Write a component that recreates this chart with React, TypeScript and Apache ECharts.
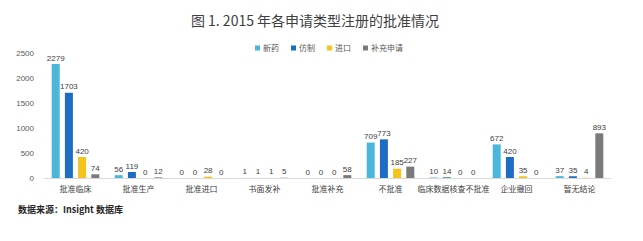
import React, { useEffect, useRef } from "react";
import * as echarts from "echarts";

const categories = ["批准临床", "批准生产", "批准进口", "书面发补", "批准补充", "不批准", "临床数据核查不批准", "企业撤回", "暂无结论"];
const seriesNames = ["新药", "仿制", "进口", "补充申请"];
const newDrug = [2279, 56, 0, 1, 0, 709, 10, 672, 37];
const generic = [1703, 119, 0, 1, 0, 773, 14, 420, 35];
const imported = [420, 0, 28, 1, 0, 185, 0, 35, 4];
const supplement = [74, 12, 0, 5, 58, 227, 0, 0, 893];
const colors = ["#4bb7da", "#1f6dc2", "#f4c41c", "#7b7b7b"];
const yTicks = [0, 500, 1000, 1500, 2000, 2500];

export default function App() {
  const ref = useRef<HTMLDivElement>(null);
  useEffect(() => {
    const chart = echarts.init(ref.current!, null, { renderer: "svg" });
    const all = [newDrug, generic, imported, supplement];
    chart.setOption({
      animation: false,
      backgroundColor: "#ffffff",
      title: {
        text: "图 1. 2015 年各申请类型注册的批准情况",
        left: 310,
        textAlign: "center",
        top: 8,
        textStyle: { fontSize: 14, fontWeight: "normal", color: "#404040", fontFamily: "Noto Sans CJK SC" },
      },
      legend: {
        data: seriesNames,
        top: 39,
        left: 250,
        itemWidth: 5,
        itemHeight: 5,
        itemGap: 12,
        icon: "rect",
        textStyle: { fontSize: 8, color: "#595959", fontFamily: "Noto Sans CJK SC", padding: [0, 0, 0, -2] },
      },
      grid: { left: 44, right: 32, top: 53, bottom: 63 },
      xAxis: {
        type: "category",
        data: categories,
        axisLine: { lineStyle: { color: "#d9d9d9" } },
        axisTick: { show: false },
        axisLabel: { fontSize: 8, color: "#404040", margin: 6, interval: 0, fontFamily: "Noto Sans CJK SC" },
      },
      yAxis: {
        type: "value",
        min: 0,
        max: yTicks[yTicks.length - 1],
        interval: 500,
        axisLine: { show: false },
        axisTick: { show: false },
        splitLine: { show: false },
        axisLabel: { fontSize: 8, color: "#595959", margin: 10, fontFamily: "Liberation Sans", formatter: (v: number) => String(v) },
      },
      series: seriesNames.map((n, i) => ({
        name: n,
        type: "bar",
        data: all[i],
        barWidth: 8,
        barGap: "65%",
        itemStyle: { color: colors[i] },
        label: { show: true, position: "top", fontSize: 8, color: "#404040", distance: 2, fontFamily: "Liberation Sans" },
      })),
    });
    return () => chart.dispose();
  }, []);
  return (
    <div style={{ position: "relative", width: 643, height: 241, margin: -8, background: "#fff" }}>
      <div ref={ref} style={{ width: 643, height: 241 }} />
      <div
        style={{
          position: "absolute",
          left: 18,
          top: 203,
          fontSize: 9,
          fontFamily: "Noto Sans CJK SC",
          color: "#262626",
          fontWeight: "bold",
        }}
      >
        数据来源：Insight 数据库
      </div>
    </div>
  );
}
